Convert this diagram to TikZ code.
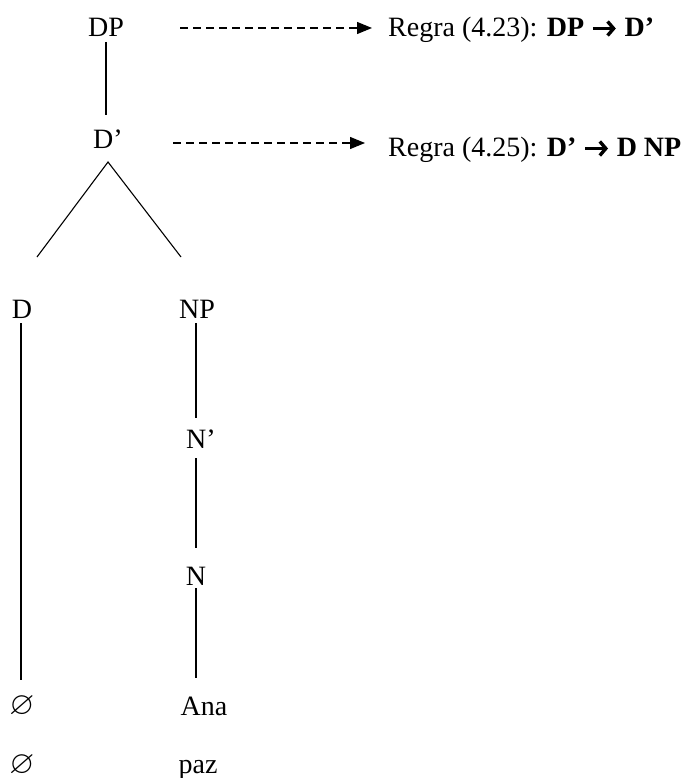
\documentclass[tikz,border=0pt]{standalone}
\usepackage{amssymb}
\usepackage{fontspec}
\setmainfont{Liberation Serif}
\usetikzlibrary{arrows.meta}
\newcommand{\boldarrow}{\tikz[baseline=0pt]{\draw[line width=3.4pt,-{Straight Barb[length=6pt,width=14pt,line width=3.4pt]}] (0pt,8.5pt) -- (23pt,8.5pt);}}
\newcommand{\emptyglyph}{\scalebox{1.15}{$\varnothing$}}
\begin{document}
\begin{tikzpicture}[x=1pt,y=-1pt,
  lbl/.style={inner sep=0pt, anchor=base, font=\fontsize{28}{34}\selectfont},
  edge/.style={line width=1.3pt},
  thinedge/.style={line width=1.1pt},
  dasharrow/.style={line width=1.2pt, dash pattern=on 8pt off 5pt, -{Triangle[length=15pt,width=12pt]}}]
\useasboundingbox (0,0) rectangle (684,778);
% tree labels
\node[lbl] (DP) at (106,37) {DP};
\node[lbl] (D1) at (108,149) {D’};
\node[lbl] (D) at (22,318) {D};
\node[lbl] (NP) at (197,318) {NP};
\node[lbl] (N1) at (201,448) {N’};
\node[lbl] (N) at (196,585) {N};
\node[lbl] (e1) at (22,714) {\emptyglyph};
\node[lbl] (Ana) at (204,715) {Ana};
\node[lbl] (e2) at (22,773) {\emptyglyph};
\node[lbl] (paz) at (198,773) {paz};
% rule texts
\node[lbl, anchor=base west] (R1) at (388,37) {Regra (4.23): \textbf{DP \boldarrow{} D’}};
\node[lbl, anchor=base west] (R2) at (388,157) {Regra (4.25): \textbf{D’ \boldarrow{} D NP}};
% connector end points
\coordinate (dpb) at (106,42);
\coordinate (d1t) at (106,115);
\coordinate (apex) at (108,162);
\coordinate (dt) at (37,257);
\coordinate (npt) at (181,257);
\coordinate (db) at (21,323);
\coordinate (de) at (21,680);
\coordinate (npb) at (196,323);
\coordinate (n1t) at (196,418);
\coordinate (n1b) at (196,458);
\coordinate (nt) at (196,548);
\coordinate (nb) at (196,588);
\coordinate (anat) at (196,678);
\coordinate (a1s) at (180,28);
\coordinate (a1e) at (372,28);
\coordinate (a2s) at (173,143);
\coordinate (a2e) at (365,143);
% connectors
\draw[edge] (dpb) -- (d1t);
\draw[thinedge] (dt) -- (apex) -- (npt);
\draw[edge] (db) -- (de);
\draw[edge] (npb) -- (n1t);
\draw[edge] (n1b) -- (nt);
\draw[edge] (nb) -- (anat);
\draw[dasharrow] (a1s) -- (a1e);
\draw[dasharrow] (a2s) -- (a2e);
\end{tikzpicture}
\end{document}
